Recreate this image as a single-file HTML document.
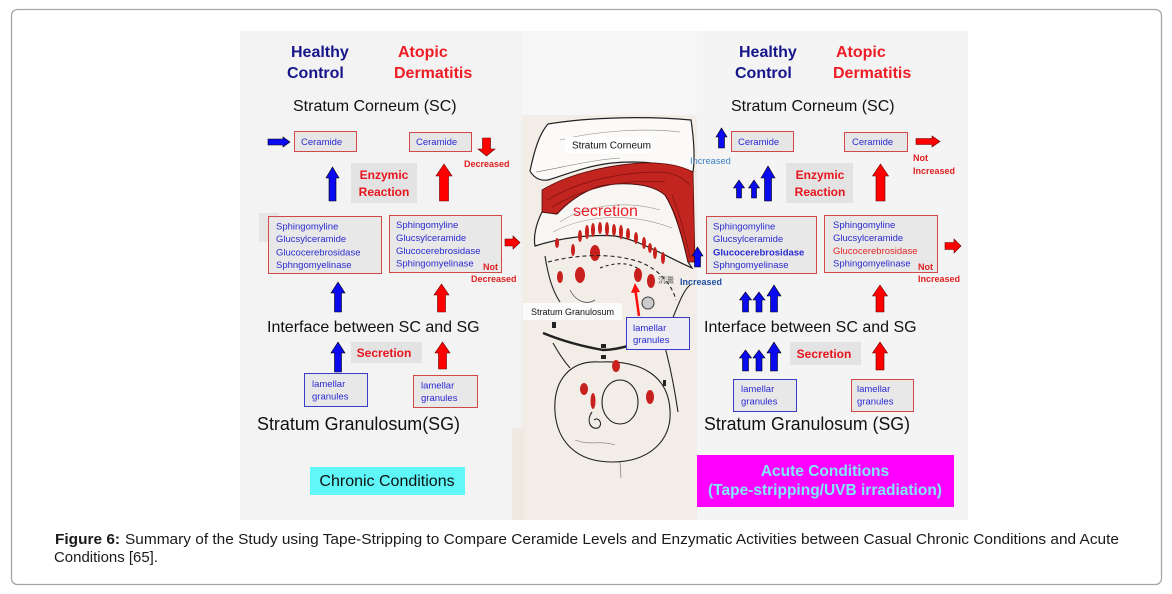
<!DOCTYPE html>
<html><head><meta charset="utf-8"><style>
html,body{margin:0;padding:0;background:#fff;width:1172px;height:594px;overflow:hidden}
svg{display:block}
text{font-family:"Liberation Sans","Noto Sans CJK SC",sans-serif}
</style></head><body>
<svg width="1172" height="594" viewBox="0 0 1172 594" xmlns="http://www.w3.org/2000/svg">
<rect x="11.5" y="9.5" width="1150" height="575" rx="6" fill="#fff" stroke="#a6a6a6" stroke-width="1.3"/>

<!-- panels -->
<rect x="240" y="31" width="282" height="489" fill="#f3f3f3"/>
<rect x="522" y="31" width="175" height="84" fill="#f6f6f6"/>
<rect x="697" y="31" width="271" height="489" fill="#f4f4f4"/>
<rect x="522" y="115" width="175" height="405" fill="#f2ede7"/>
<rect x="512" y="428" width="12" height="92" fill="#efe9e2"/>

<!-- ===== middle drawing ===== -->
<g stroke="#222" stroke-width="1.2" fill="none">
  <path d="M530,171 C534,152 539,134 548,124 C590,117 650,116 691,120 C694,140 695,158 693,172 C672,164 640,160 612,163 C585,166 565,175 548,180 C540,181 534,178 530,171 Z" fill="#fbfaf8"/>
  <path d="M560,140 C600,130 650,128 680,132" stroke="#888" stroke-width="0.6"/>
  <path d="M536,172 C560,168 590,160 620,158" stroke="#777" stroke-width="0.6"/>
  <path d="M542,212 L557,214 C565,205 580,192 600,186 C620,182 650,182 665,195 C675,210 682,235 688,262 L692,268 C665,256 640,240 615,236 C590,234 560,238 535,246 C533,235 537,222 542,212 Z" fill="#f8f6f2"/>
  <path d="M560,222 C585,205 625,200 660,210" stroke="#999" stroke-width="0.6"/>
  <path d="M553,232 C585,215 630,212 672,228" stroke="#999" stroke-width="0.6"/>
</g>
<path d="M542,190 C565,176 600,166 640,163 C665,162 682,166 693,172 L695,262 L688,262 C682,235 675,210 665,195 C650,182 620,182 600,186 C580,192 565,205 557,214 L542,212 Z" fill="#c22420" stroke="#5a0d0b" stroke-width="0.8"/>
<g stroke="#7a1410" stroke-width="0.7" fill="none">
  <path d="M548,200 C575,182 620,172 660,172 C675,173 684,178 690,185"/>
  <path d="M552,207 C580,190 620,178 665,182"/>
  <path d="M672,195 C680,215 686,238 690,258"/>
</g>
<g fill="#c8201c">
  <ellipse cx="557" cy="243" rx="2" ry="5"/><ellipse cx="573" cy="250" rx="2" ry="6"/>
  <ellipse cx="580" cy="236" rx="2" ry="6"/><ellipse cx="587" cy="232" rx="2" ry="7"/>
  <ellipse cx="593" cy="230" rx="2" ry="7"/><ellipse cx="600" cy="228" rx="2" ry="6"/>
  <ellipse cx="607" cy="229" rx="2" ry="7"/><ellipse cx="614" cy="230" rx="2" ry="6"/>
  <ellipse cx="621" cy="232" rx="2" ry="7"/><ellipse cx="628" cy="234" rx="2" ry="6"/>
  <ellipse cx="636" cy="238" rx="2" ry="6"/><ellipse cx="644" cy="243" rx="2" ry="6"/>
  <ellipse cx="650" cy="248" rx="2" ry="5"/>
  <ellipse cx="595" cy="253" rx="5" ry="8"/><ellipse cx="580" cy="275" rx="5" ry="8"/>
  <ellipse cx="560" cy="277" rx="3" ry="6"/><ellipse cx="638" cy="275" rx="4" ry="7"/>
  <ellipse cx="651" cy="281" rx="4" ry="7"/><ellipse cx="655" cy="253" rx="2" ry="6"/>
  <ellipse cx="663" cy="258" rx="2" ry="6"/>
</g>
<g stroke="#222" stroke-width="1.1" fill="none">
  <path d="M545,256 C548,275 552,290 560,302"/>
  <path d="M548,262 C575,255 610,252 640,262 C660,270 672,285 676,300" stroke-dasharray="4 3"/>
  <path d="M600,268 C615,262 630,262 640,270" stroke-dasharray="3 3"/>
  <path d="M543,333 C560,340 580,346 603,350 C625,350 650,338 677,328" stroke-width="2.4"/>
  <path d="M553,343 C558,352 563,360 570,368"/>
  <path d="M660,330 C668,355 674,385 678,412"/>
  <path d="M672,320 C680,300 684,290 690,285"/>
  <path d="M555,412 C553,380 570,360 600,362 C640,360 668,375 670,410 C672,440 650,462 612,462 C575,462 557,440 555,412 Z"/>
  <ellipse cx="620" cy="402" rx="18" ry="22"/>
  <path d="M592,412 C586,420 590,430 598,428 C604,424 598,416 594,420"/>
  <path d="M575,440 C590,446 600,440 615,445" stroke="#777" stroke-width="0.6"/>
  <circle cx="648" cy="303" r="6" fill="#ccc" stroke="#444"/>
  <path d="M570,290 C575,300 585,306 595,300" stroke="#555" stroke-width="0.8"/>
  <path d="M620,462 L621,478" stroke="#777" stroke-width="0.7"/>
</g>
<g fill="#222">
  <rect x="601" y="344" width="5" height="4"/><rect x="601" y="355" width="5" height="4"/>
  <rect x="552" y="322" width="4" height="6"/><rect x="663" y="380" width="3" height="6"/>
</g>
<g fill="#c8201c">
  <ellipse cx="616" cy="366" rx="4" ry="6"/><ellipse cx="584" cy="389" rx="4" ry="6"/>
  <ellipse cx="593" cy="401" rx="2.5" ry="8"/><ellipse cx="650" cy="397" rx="4" ry="7"/>
</g>
<text x="658" y="283" font-size="8" fill="#555">沉澱</text>
<rect x="565" y="137" width="86" height="16" fill="#fff"/>
<text x="572" y="148.5" font-size="10" fill="#111">Stratum Corneum</text>
<text x="573" y="216" font-size="16" fill="#e8202a">secretion</text>
<rect x="523" y="303" width="99" height="17" fill="#fbfbfb"/>
<text x="531" y="315" font-size="9" fill="#111">Stratum Granulosum</text>
<rect x="626.5" y="317.5" width="63" height="32" fill="#ececf2" stroke="#3a3ac8" stroke-width="1"/>
<text x="633" y="331" font-size="9.5" fill="#2a2ad0">lamellar</text>
<text x="633" y="343" font-size="9.5" fill="#2a2ad0">granules</text>
<line x1="639" y1="316" x2="635.5" y2="291" stroke="#ff1010" stroke-width="2.5"/>
<polygon points="631,293 635,283 640,292" fill="#ff1010"/>

<g font-weight="bold" font-size="16">
  <text x="291" y="57" fill="#16168a">Healthy</text>
  <text x="287" y="78" fill="#16168a">Control</text>
  <text x="398" y="57" fill="#ee1c24">Atopic</text>
  <text x="394" y="78" fill="#ee1c24">Dermatitis</text>
  <text x="739" y="57" fill="#16168a">Healthy</text>
  <text x="735" y="78" fill="#16168a">Control</text>
  <text x="836" y="57" fill="#ee1c24">Atopic</text>
  <text x="833" y="78" fill="#ee1c24">Dermatitis</text>
</g>
<g font-size="16" fill="#111">
  <text x="293" y="111">Stratum Corneum (SC)</text>
  <text x="731" y="111">Stratum Corneum (SC)</text>
  <text x="267" y="332">Interface between SC and SG</text>
  <text x="704" y="332">Interface between SC and SG</text>
  <text x="257" y="430" font-size="18" textLength="203" lengthAdjust="spacingAndGlyphs">Stratum Granulosum(SG)</text>
  <text x="704" y="430" font-size="18" textLength="206" lengthAdjust="spacingAndGlyphs">Stratum Granulosum (SG)</text>
</g>

<g stroke-width="1">
  <rect x="294.5" y="131.5" width="62" height="20" fill="#e6e6e6" stroke="#d04848"/>
  <rect x="409.5" y="132.5" width="62" height="19" fill="#e6e6e6" stroke="#d04848"/>
  <rect x="351" y="163" width="66" height="40" fill="#e3e3e3"/>
  <rect x="259" y="213" width="20" height="29" fill="#e6e6e6"/>
  <rect x="268.5" y="216.5" width="113" height="57" fill="#e8e8e8" stroke="#d04848"/>
  <rect x="389.5" y="215.5" width="112" height="57" fill="#e8e8e8" stroke="#d04848"/>
  <rect x="351" y="342" width="71" height="21" fill="#e3e3e3"/>
  <rect x="304.5" y="373.5" width="63" height="33" fill="#e8e8e8" stroke="#3a3ac8"/>
  <rect x="413.5" y="375.5" width="64" height="32" fill="#e8e8e8" stroke="#d04848"/>
  <rect x="310" y="467" width="155" height="28" fill="#5ff7f7"/>

  <rect x="731.5" y="131.5" width="62" height="20" fill="#e6e6e6" stroke="#d04848"/>
  <rect x="844.5" y="132.5" width="63" height="19" fill="#e6e6e6" stroke="#d04848"/>
  <rect x="786" y="163" width="67" height="40" fill="#e3e3e3"/>
  <rect x="706.5" y="216.5" width="110" height="57" fill="#e8e8e8" stroke="#d04848"/>
  <rect x="824.5" y="215.5" width="113" height="57" fill="#e8e8e8" stroke="#d04848"/>
  <rect x="790" y="342" width="71" height="23" fill="#e3e3e3"/>
  <rect x="733.5" y="379.5" width="63" height="32" fill="#e8e8e8" stroke="#3a3ac8"/>
  <rect x="851.5" y="379.5" width="62" height="32" fill="#e8e8e8" stroke="#d04848"/>
  <rect x="697" y="455" width="257" height="52" fill="#ff00ff"/>
</g>

<g font-size="9.5" fill="#2a2ad0">
  <text x="301" y="145">Ceramide</text>
  <text x="416" y="145">Ceramide</text>
  <text x="276" y="229.5">Sphingomyline</text>
  <text x="276" y="242">Glucsylceramide</text>
  <text x="276" y="255.5">Glucocerebrosidase</text>
  <text x="276" y="268">Sphngomyelinase</text>
  <text x="396" y="228">Sphingomyline</text>
  <text x="396" y="241">Glucsylceramide</text>
  <text x="396" y="254">Glucocerebrosidase</text>
  <text x="396" y="266.5">Sphingomyelinase</text>
  <text x="312" y="387">lamellar</text>
  <text x="312" y="399.5">granules</text>
  <text x="421" y="388.5">lamellar</text>
  <text x="421" y="401">granules</text>

  <text x="738" y="145">Ceramide</text>
  <text x="852" y="145">Ceramide</text>
  <text x="713" y="229.5">Sphingomyline</text>
  <text x="713" y="242">Glucsylceramide</text>
  <text x="713" y="255.5" font-weight="bold">Glucocerebrosidase</text>
  <text x="713" y="268">Sphngomyelinase</text>
  <text x="833" y="228">Sphingomyline</text>
  <text x="833" y="241">Glucsylceramide</text>
  <text x="833" y="254" fill="#e02828">Glucocerebrosidase</text>
  <text x="833" y="266.5">Sphingomyelinase</text>
  <text x="741" y="392">lamellar</text>
  <text x="741" y="404.5">granules</text>
  <text x="857" y="392">lamellar</text>
  <text x="857" y="404.5">granules</text>
</g>
<g font-size="12" font-weight="bold" fill="#e8141c" text-anchor="middle">
  <text x="384" y="179">Enzymic</text>
  <text x="384" y="196">Reaction</text>
  <text x="384" y="357">Secretion</text>
  <text x="820" y="179">Enzymic</text>
  <text x="820" y="196">Reaction</text>
  <text x="824" y="358">Secretion</text>
</g>
<g font-size="9" font-weight="bold" fill="#e02020">
  <text x="464" y="167">Decreased</text>
  <text x="483" y="270">Not</text>
  <text x="471" y="282">Decreased</text>
  <text x="913" y="161">Not</text>
  <text x="913" y="174">Increased</text>
  <text x="918" y="270">Not</text>
  <text x="918" y="282">Increased</text>
</g>
<text x="690" y="164" font-size="9.3" fill="#3d7fc4">Increased</text>
<text x="680" y="285" font-size="9" font-weight="bold" fill="#1f4fa0">Increased</text>

<text x="387" y="486" font-size="16" fill="#111" text-anchor="middle">Chronic Conditions</text>
<g font-size="15.5" font-weight="bold" fill="#80e8ff" text-anchor="middle">
  <text x="825" y="476">Acute Conditions</text>
  <text x="825" y="495">(Tape-stripping/UVB irradiation)</text>
</g>

<g fill="#0a0af0" stroke="#000" stroke-width="0.6">
  <polygon points="329,201 329,178 326,178 332.5,167 339,178 336,178 336,201"/>
  <polygon points="334.5,312 334.5,293 331,293 338,282 345,293 341.5,293 341.5,312"/>
  <polygon points="334.5,372 334.5,353 331,353 338,342 345,353 341.5,353 341.5,372"/>
  <polygon points="268,139 283,139 283,137 290,142 283,147 283,145 268,145"/>
  <polygon points="718.5,148 718.5,137 716,137 721.5,128 727,137 724.5,137 724.5,148"/>
  <polygon points="736.5,198 736.5,188 733.5,188 739,180 744.5,188 741.5,188 741.5,198"/>
  <polygon points="751.5,198 751.5,188 748.5,188 754,180 759.5,188 756.5,188 756.5,198"/>
  <polygon points="764.5,201 764.5,178 761,178 768,166 775,178 771.5,178 771.5,201"/>
  <polygon points="742.5,312 742.5,300 739.5,300 745.5,292 751.5,300 748.5,300 748.5,312"/>
  <polygon points="756,312 756,300 753,300 759,292 765,300 762,300 762,312"/>
  <polygon points="770.5,312 770.5,296 767,296 774,285 781,296 777.5,296 777.5,312"/>
  <polygon points="742.5,371 742.5,358 739.5,358 745.5,350 751.5,358 748.5,358 748.5,371"/>
  <polygon points="756,371 756,358 753,358 759,350 765,358 762,358 762,371"/>
  <polygon points="770.5,371 770.5,353 767,353 774,342 781,353 777.5,353 777.5,371"/>
  <polygon points="694.5,267 694.5,256 692,256 697.5,247 703,256 700.5,256 700.5,267"/>
</g>
<g fill="#ff0000" stroke="#600" stroke-width="0.6">
  <polygon points="439.5,201 439.5,176 436,176 444,164 452,176 448.5,176 448.5,201"/>
  <polygon points="437.5,312 437.5,295 434,295 441.5,284 449,295 445.5,295 445.5,312"/>
  <polygon points="438.5,369 438.5,353 435,353 442.5,342 450,353 446.5,353 446.5,369"/>
  <polygon points="482.5,138 490.5,138 490.5,149 495,149 486.5,156 478,149 482.5,149"/>
  <polygon points="505,239 513,239 513,236 520,242.5 513,249 513,246 505,246"/>
  <polygon points="876,201 876,176 872.5,176 880.5,164 888.5,176 885,176 885,201"/>
  <polygon points="916,138.5 932,138.5 932,136 940,141.5 932,147 932,144.5 916,144.5"/>
  <polygon points="945,242.5 954,242.5 954,239 961,246 954,253 954,249.5 945,249.5"/>
  <polygon points="876,312 876,296 872.5,296 880,285 887.5,296 884,296 884,312"/>
  <polygon points="876,370 876,353 872.5,353 880,342 887.5,353 884,353 884,370"/>
</g>

<text x="55" y="544" font-size="14.6" font-weight="bold" fill="#1a1a1a" textLength="65" lengthAdjust="spacingAndGlyphs">Figure 6:</text>
<text x="125" y="544" font-size="14.6" fill="#1a1a1a" textLength="994" lengthAdjust="spacingAndGlyphs">Summary of the Study using Tape-Stripping to Compare Ceramide Levels and Enzymatic Activities between Casual Chronic Conditions and Acute</text>
<text x="54" y="562" font-size="14.6" fill="#1a1a1a" textLength="104" lengthAdjust="spacingAndGlyphs">Conditions [65].</text>
</svg>
</body></html>
